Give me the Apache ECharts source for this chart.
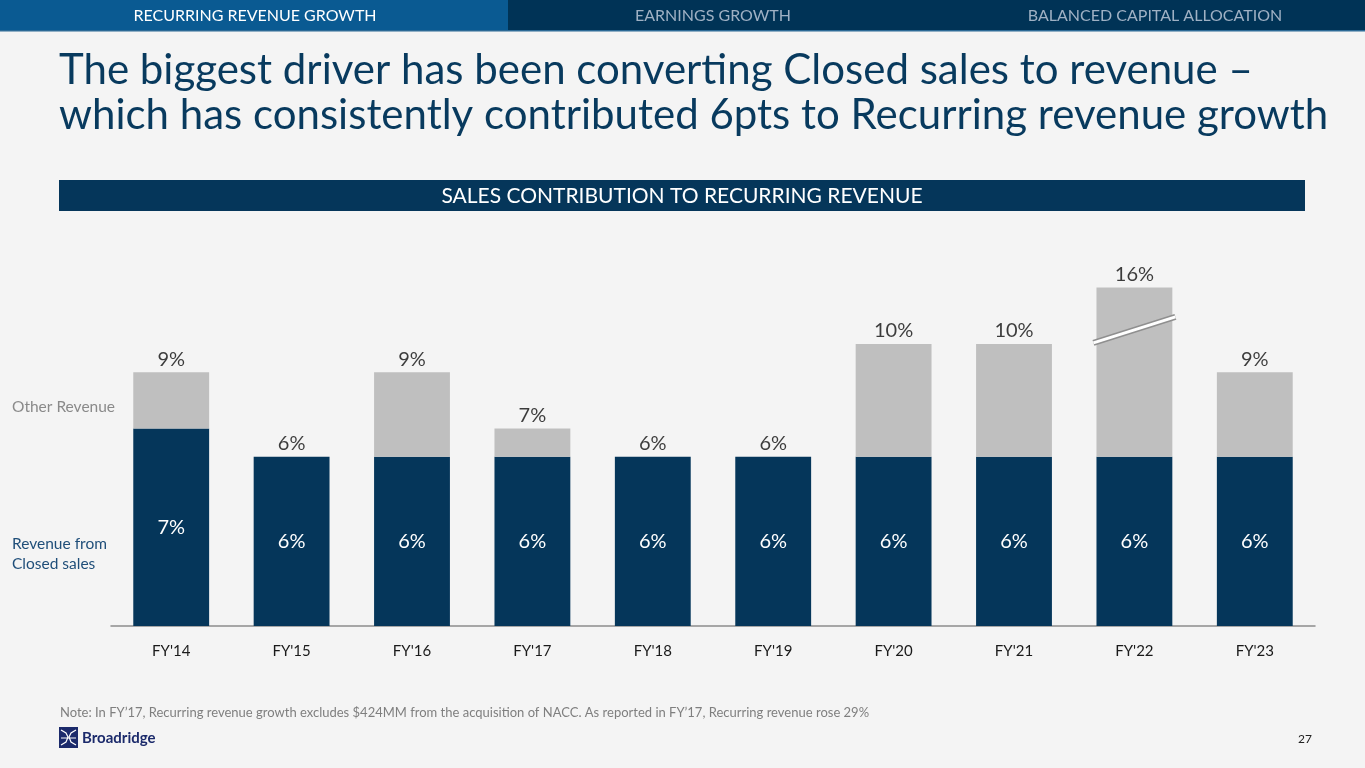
<!DOCTYPE html>
<html>
<head>
<meta charset="utf-8">
<script src="https://cdn.jsdelivr.net/npm/echarts@6/dist/echarts.min.js"></script>
<style>
  html, body { margin: 0; padding: 0; background: #f4f4f4; }
  #chart { width: 1365px; height: 768px; }
</style>
</head>
<body>
<div id="chart"></div>
<script>
// data
var years = ["FY'14", "FY'15", "FY'16", "FY'17", "FY'18", "FY'19", "FY'20", "FY'21", "FY'22", "FY'23"];
var closedSales = [7, 6, 6, 6, 6, 6, 6, 6, 6, 6];
var totalGrowth = [9, 6, 9, 7, 6, 6, 10, 10, 16, 9];
var axisCap = 12; // FY'22 is drawn cut off with a break

var navy = '#05365a';
var grey = '#bfbfbf';
var font = 'Lato';

var shown = totalGrowth.map(function (t) { return Math.min(t, axisCap); });
var other = shown.map(function (t, i) { return t - closedSales[i]; });

var chart = echarts.init(document.getElementById('chart'));

var option = {
  backgroundColor: '#f4f4f4',
  textStyle: { fontFamily: font },
  animation: false,
  grid: { left: 111, right: 50, top: 234, bottom: 142 },
  xAxis: {
    type: 'category',
    data: years,
    axisLine: { lineStyle: { color: '#8c8c8c', width: 1.5 } },
    axisTick: { show: false },
    axisLabel: { color: '#1a1a1a', fontSize: 15, margin: 18, fontFamily: font }
  },
  yAxis: { type: 'value', min: 0, max: 13.9, show: false },
  series: [
    {
      name: 'Revenue from Closed sales',
      type: 'bar',
      stack: 'rev',
      barWidth: '63%',
      itemStyle: { color: navy },
      label: {
        show: true, position: 'inside', color: '#fff', fontSize: 20,
        formatter: function (p) { return p.value + '%'; }
      },
      data: closedSales
    },
    {
      name: 'Other Revenue',
      type: 'bar',
      stack: 'rev',
      itemStyle: { color: grey },
      data: other
    },
    {
      name: 'Total',
      type: 'scatter',
      symbolSize: 0,
      silent: true,
      label: {
        show: true, position: 'top', distance: 3, color: '#0d0d0d', fontSize: 20,
        formatter: function (p) { return totalGrowth[p.dataIndex] + '%'; }
      },
      data: shown
    }
  ]
};
chart.setOption(option);

// break marks on the capped bar
var capIdx = totalGrowth.findIndex(function (t) { return t > axisCap; });
var pa = chart.convertToPixel({ gridIndex: 0 }, [capIdx, 10.5]);
var x1 = pa[0] - 41, x2 = pa[0] + 41;

var headFont = '16px "Liberation Sans Narrow", ' + font;

chart.setOption({
  graphic: [
    // header tabs
    { type: 'rect', z: 100, shape: { x: 0, y: 0, width: 508, height: 31 }, style: { fill: '#0a5a92' } },
    { type: 'rect', z: 100, shape: { x: 508, y: 0, width: 857, height: 31 }, style: { fill: '#003356' } },
    { type: 'rect', z: 100, shape: { x: 0, y: 30, width: 1365, height: 1.5 }, style: { fill: '#2c6a96' } },
    { type: 'text', z: 101, x: 255, y: 16, style: { text: 'RECURRING REVENUE GROWTH', fill: '#ffffff', font: headFont, textAlign: 'center', textVerticalAlign: 'middle' } },
    { type: 'text', z: 101, x: 713, y: 16, style: { text: 'EARNINGS GROWTH', fill: '#9fb1c4', font: headFont, textAlign: 'center', textVerticalAlign: 'middle' } },
    { type: 'text', z: 101, x: 1155, y: 16, style: { text: 'BALANCED CAPITAL ALLOCATION', fill: '#9fb1c4', font: headFont, textAlign: 'center', textVerticalAlign: 'middle' } },
    // title
    { type: 'text', z: 100, x: 59, y: 48, style: { text: 'The biggest driver has been converting Closed sales to revenue \u2013\nwhich has consistently contributed 6pts to Recurring revenue growth', fill: '#083a5e', font: '42px ' + font, lineHeight: 45 } },
    // section band
    { type: 'rect', z: 100, shape: { x: 59, y: 180, width: 1246, height: 31 }, style: { fill: navy } },
    { type: 'text', z: 101, x: 682, y: 196, style: { text: 'SALES CONTRIBUTION TO RECURRING REVENUE', fill: '#ffffff', font: '21px ' + font, textAlign: 'center', textVerticalAlign: 'middle' } },
    // series labels on the left
    { type: 'text', z: 100, x: 12, y: 407, style: { text: 'Other Revenue', fill: '#8a8a8a', font: '15.5px ' + font, textVerticalAlign: 'middle' } },
    { type: 'text', z: 100, x: 12, y: 534, style: { text: 'Revenue from\nClosed sales', fill: '#1f4e79', font: '15.5px ' + font, lineHeight: 20 } },
    // axis break
    { type: 'line', z: 100, shape: { x1: x1, y1: pa[1] + 13, x2: x2, y2: pa[1] - 13 }, style: { stroke: '#8f8f8f', lineWidth: 6 } },
    { type: 'line', z: 101, shape: { x1: x1, y1: pa[1] + 13, x2: x2, y2: pa[1] - 13 }, style: { stroke: '#ffffff', lineWidth: 3 } },
    // footnote
    { type: 'text', z: 100, x: 60, y: 713, style: { text: 'Note: In FY\u201917, Recurring revenue growth excludes $424MM from the acquisition of NACC. As reported in FY\u201917, Recurring revenue rose 29%', fill: '#7f7f7f', font: '13px ' + font, textVerticalAlign: 'middle' } },
    // logo
    { type: 'rect', z: 100, shape: { x: 59, y: 727, width: 19, height: 21 }, style: { fill: '#1b2a6b' } },
    { type: 'polyline', z: 101, shape: { points: [[61, 730], [66, 733], [68, 737], [66, 742], [61, 745]] }, style: { stroke: '#fff', lineWidth: 1.2, fill: null } },
    { type: 'polyline', z: 101, shape: { points: [[76, 730], [71, 733], [69, 737], [71, 742], [76, 745]] }, style: { stroke: '#fff', lineWidth: 1.2, fill: null } },
    { type: 'line', z: 101, shape: { x1: 61, y1: 738, x2: 76, y2: 738 }, style: { stroke: '#fff', lineWidth: 1 } },
    { type: 'text', z: 100, x: 82, y: 738, style: { text: 'Broadridge', fill: '#1b2a6b', font: 'bold 15px ' + font, textVerticalAlign: 'middle' } },
    // page number
    { type: 'text', z: 100, x: 1298, y: 739, style: { text: '27', fill: '#222', font: '12px ' + font, textVerticalAlign: 'middle' } }
  ]
});
</script>
</body>
</html>
